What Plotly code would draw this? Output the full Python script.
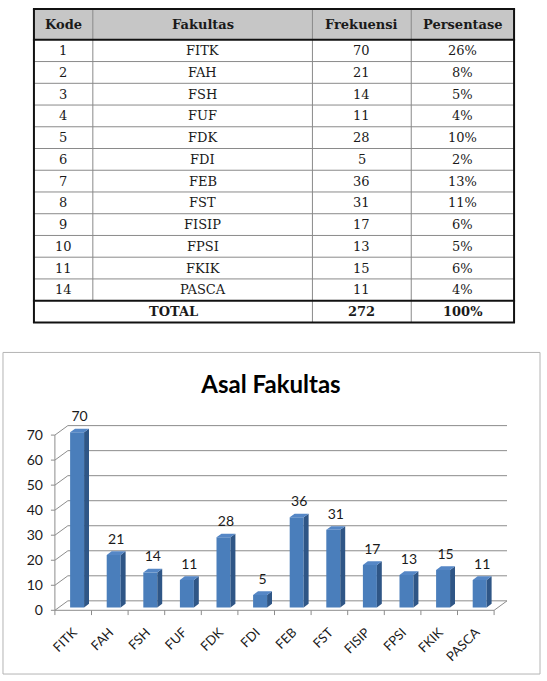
import plotly.graph_objects as go

# ---------------- data ----------------
headers = ["Kode", "Fakultas", "Frekuensi", "Persentase"]
kode = ["1", "2", "3", "4", "5", "6", "7", "8", "9", "10", "11", "14"]
fakultas = ["FITK", "FAH", "FSH", "FUF", "FDK", "FDI", "FEB", "FST", "FISIP", "FPSI", "FKIK", "PASCA"]
frekuensi = [70, 21, 14, 11, 28, 5, 36, 31, 17, 13, 15, 11]
persentase = ["26%", "8%", "5%", "4%", "10%", "2%", "13%", "11%", "6%", "5%", "6%", "4%"]
total_label = "TOTAL"
total_frek = "272"
total_pers = "100%"
chart_title = "Asal Fakultas"
y_ticks = [0, 10, 20, 30, 40, 50, 60, 70]

# ---------------- layout constants (pixels) ----------------
W, H = 547, 681


def px(x):
    return x / W


def py(y):
    return 1 - y / H


fig = go.Figure()
shapes = []
annotations = []

# ---------------- table ----------------
T_L, T_R, T_T, T_B = 33, 514, 9, 324
col_x = [33, 92, 312, 411, 514]
HEAD_B = 40
TOT_T = 302
n_rows = len(kode)
row_h = (TOT_T - HEAD_B) / n_rows
serif = "DejaVu Serif"
txt_col = "#1a1a1a"

# header fill
shapes.append(dict(type="rect", xref="paper", yref="paper", x0=px(T_L), x1=px(T_R),
                   y0=py(HEAD_B), y1=py(T_T), fillcolor="#c6c6c6", line=dict(width=0), layer="below"))
# thin horizontal lines
for i in range(1, n_rows):
    y = HEAD_B + i * row_h
    shapes.append(dict(type="line", xref="paper", yref="paper", x0=px(T_L), x1=px(T_R),
                       y0=py(y), y1=py(y), line=dict(color="#8a8a8a", width=1)))
# thin vertical lines
for j in range(1, 4):
    yb = TOT_T if j == 1 else T_B
    shapes.append(dict(type="line", xref="paper", yref="paper", x0=px(col_x[j]), x1=px(col_x[j]),
                       y0=py(T_T), y1=py(yb), line=dict(color="#8a8a8a", width=1)))
# thick lines
for y in [T_T, HEAD_B, TOT_T, T_B]:
    shapes.append(dict(type="line", xref="paper", yref="paper", x0=px(T_L - 1), x1=px(T_R + 1),
                       y0=py(y), y1=py(y), line=dict(color="#111111", width=2)))
for x in [T_L, T_R]:
    shapes.append(dict(type="line", xref="paper", yref="paper", x0=px(x), x1=px(x),
                       y0=py(T_T), y1=py(T_B), line=dict(color="#111111", width=2)))

# header text
for j, h in enumerate(headers):
    annotations.append(dict(xref="paper", yref="paper", x=px((col_x[j] + col_x[j + 1]) / 2),
                            y=py((T_T + HEAD_B) / 2), text=h, showarrow=False,
                            xanchor="center", yanchor="middle",
                            font=dict(family=serif, size=13, color=txt_col, weight="bold")))
# body text
for i in range(n_rows):
    yc = HEAD_B + (i + 0.5) * row_h
    vals = [kode[i], fakultas[i], str(frekuensi[i]), persentase[i]]
    for j, v in enumerate(vals):
        annotations.append(dict(xref="paper", yref="paper", x=px((col_x[j] + col_x[j + 1]) / 2),
                                y=py(yc), text=v, showarrow=False, xanchor="center", yanchor="middle",
                                font=dict(family=serif, size=13, color=txt_col)))
# total row
yc = (TOT_T + T_B) / 2
for xc, v in [((col_x[0] + col_x[2]) / 2, total_label), ((col_x[2] + col_x[3]) / 2, total_frek),
              ((col_x[3] + col_x[4]) / 2, total_pers)]:
    annotations.append(dict(xref="paper", yref="paper", x=px(xc), y=py(yc), text=v, showarrow=False,
                            xanchor="center", yanchor="middle",
                            font=dict(family=serif, size=13, color=txt_col, weight="bold")))

# ---------------- chart ----------------
# chart box
shapes.append(dict(type="rect", xref="paper", yref="paper", x0=px(2), x1=px(540), y0=py(677), y1=py(354),
                   line=dict(color="#b4b4b4", width=1), fillcolor="rgba(0,0,0,0)"))

X0, X1 = 54, 494          # front floor edge, px
Y0, YTOP = 613, 437       # front value 0 and value 70, px
DX, DY = 13, 9.5          # depth offset of back wall, px
PAD = 5                   # padding around plot area, px
TOPPAD = 30               # room above the back wall for data labels, px
n = len(fakultas)
cat_px = (X1 - X0) / n
unit_px = (Y0 - YTOP) / y_ticks[-1]
dxc = DX / cat_px
dyv = DY / unit_px
xl, xr_ = -0.5, n - 0.5
x_range = [xl - PAD / cat_px, xl + (X1 + DX - X0) / cat_px]
y_range = [-PAD / unit_px, (Y0 - (YTOP - DY - TOPPAD)) / unit_px]

grid_col = "#8c8c8c"
# back-wall & side-wall gridlines
for v in y_ticks:
    shapes.append(dict(type="path", xref="x", yref="y", layer="below",
                       path=f"M {xl},{v} L {xl + dxc},{v + dyv} L {xr_ + dxc},{v + dyv}",
                       line=dict(color=grid_col, width=1)))
    # y tick marks
    shapes.append(dict(type="line", xref="x", yref="y", layer="below",
                       x0=xl - 4 / cat_px, x1=xl, y0=v, y1=v, line=dict(color=grid_col, width=1)))
# front y-axis line
shapes.append(dict(type="line", xref="x", yref="y", layer="below", x0=xl, x1=xl, y0=0, y1=y_ticks[-1],
                   line=dict(color=grid_col, width=1)))
# floor front edge and right edge
shapes.append(dict(type="path", xref="x", yref="y", layer="below",
                   path=f"M {xl},0 L {xr_},0 L {xr_ + dxc},{dyv}",
                   line=dict(color=grid_col, width=1)))
# x tick marks at category boundaries
for k in range(n + 1):
    xb = xl + k
    shapes.append(dict(type="line", xref="x", yref="y", layer="below",
                       x0=xb, x1=xb, y0=0, y1=-5 / unit_px, line=dict(color=grid_col, width=1)))

# 3D bars
F_FRONT, F_BACK = 0.30, 0.68
bw = 14 / cat_px
front_col = "#4a7ebb"
side_col = "#2f5686"
top_col = "#5587c6"

xs = list(range(n))
fig.add_trace(go.Bar(x=[i + F_FRONT * dxc for i in xs], y=frekuensi, base=F_FRONT * dyv, width=bw,
                     marker=dict(color=front_col, line=dict(width=0)), hoverinfo="skip",
                     showlegend=False))

side_x, side_y, top_x, top_y = [], [], [], []
for i, v in zip(xs, frekuensi):
    xr1 = i + bw / 2
    xl1 = i - bw / 2
    side_x += [xr1 + F_FRONT * dxc, xr1 + F_BACK * dxc, xr1 + F_BACK * dxc, xr1 + F_FRONT * dxc,
               xr1 + F_FRONT * dxc, None]
    side_y += [F_FRONT * dyv, F_BACK * dyv, v + F_BACK * dyv, v + F_FRONT * dyv, F_FRONT * dyv, None]
    top_x += [xl1 + F_FRONT * dxc, xr1 + F_FRONT * dxc, xr1 + F_BACK * dxc, xl1 + F_BACK * dxc,
              xl1 + F_FRONT * dxc, None]
    top_y += [v + F_FRONT * dyv, v + F_FRONT * dyv, v + F_BACK * dyv, v + F_BACK * dyv,
              v + F_FRONT * dyv, None]

fig.add_trace(go.Scatter(x=side_x, y=side_y, mode="lines", fill="toself", fillcolor=side_col,
                         line=dict(width=0, color=side_col), hoverinfo="skip", showlegend=False))
fig.add_trace(go.Scatter(x=top_x, y=top_y, mode="lines", fill="toself", fillcolor=top_col,
                         line=dict(width=0, color=top_col), hoverinfo="skip", showlegend=False))

# data labels
fig.add_trace(go.Scatter(x=[i + (F_FRONT + F_BACK) / 2 * dxc for i in xs],
                         y=[v + F_BACK * dyv + 11 / unit_px for v in frekuensi],
                         mode="text", text=[str(v) for v in frekuensi], textposition="middle center",
                         textfont=dict(family="Lato", size=14, color="#1a1a1a"), cliponaxis=False,
                         hoverinfo="skip", showlegend=False))

fig.update_layout(
    width=W, height=H,
    margin=dict(l=0, r=0, t=0, b=0),
    paper_bgcolor="white", plot_bgcolor="rgba(0,0,0,0)",
    showlegend=False,
    shapes=shapes,
    annotations=annotations,
    title=dict(text=chart_title, x=px(271), y=py(385), xanchor="center", yanchor="middle",
               font=dict(family="Lato", size=24, color="#000000", weight="bold")),
    xaxis=dict(domain=[px(X0 - PAD), px(X1 + DX)], range=x_range, tickmode="array", tickvals=xs,
               ticktext=fakultas, tickangle=-45, ticks="", showgrid=False, zeroline=False,
               showline=False, ticklabelstandoff=6,
               tickfont=dict(family="Lato", size=13, color="#1a1a1a")),
    yaxis=dict(domain=[py(Y0 + PAD), py(YTOP - DY - TOPPAD)], range=y_range, tickmode="array",
               tickvals=y_ticks, ticks="", showgrid=False, zeroline=False, showline=False,
               ticklabelstandoff=6, tickfont=dict(family="Lato", size=14, color="#1a1a1a")),
)

fig.write_html("out.html")
